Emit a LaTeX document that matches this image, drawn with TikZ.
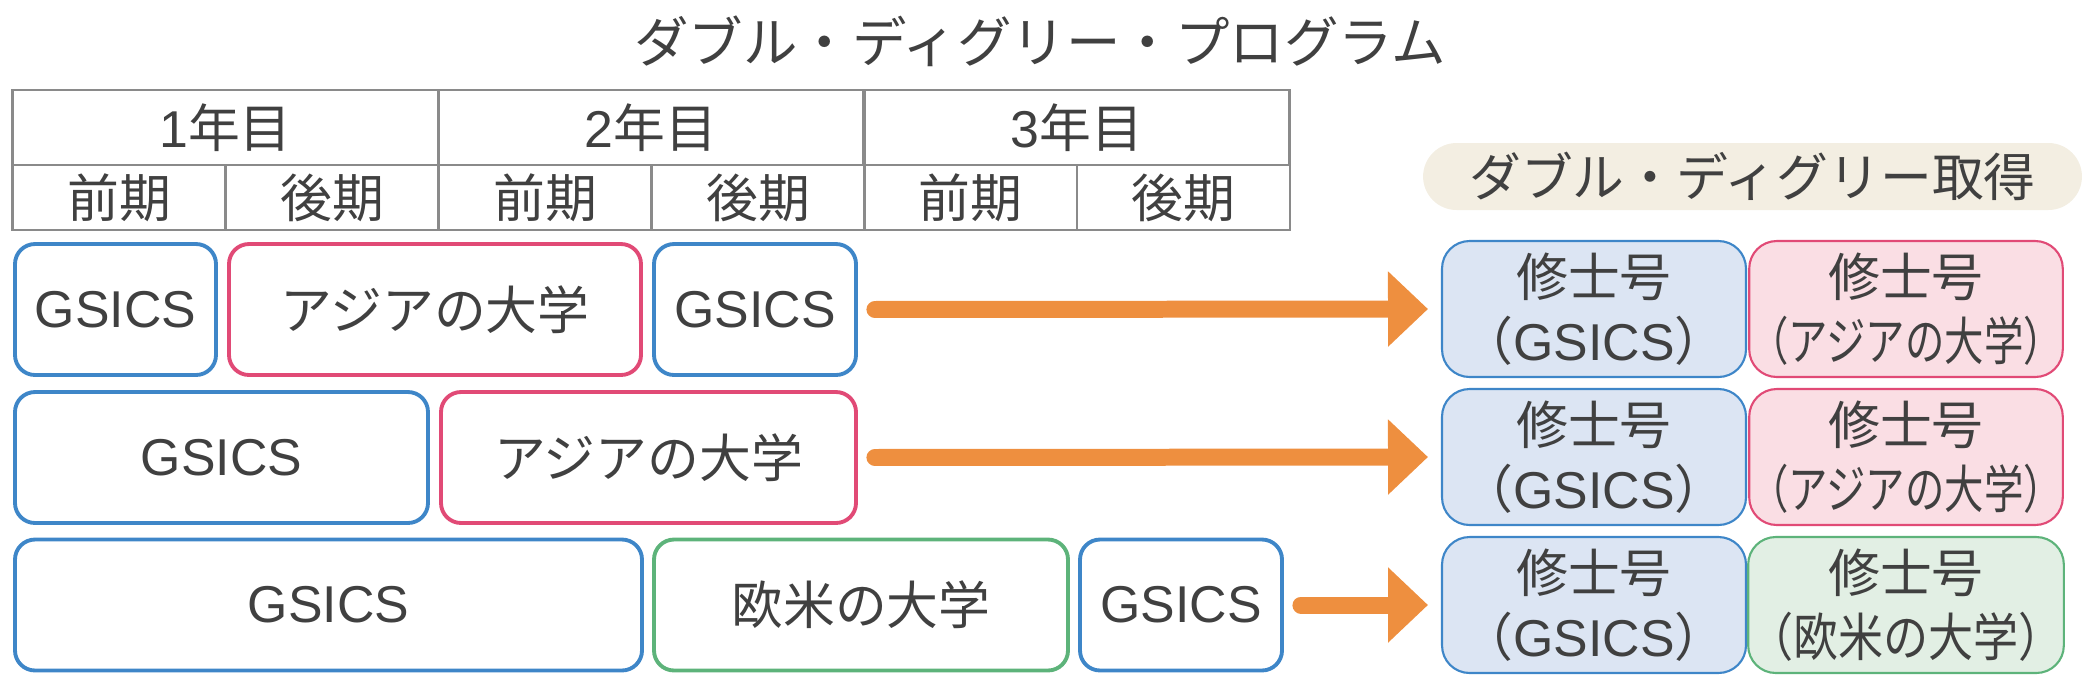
\documentclass[tikz,border=0pt]{standalone}
\usepackage{fontspec}
\setmainfont{Noto Sans CJK JP}
\newfontfamily\latinfont{Liberation Sans}
\usepackage{graphicx}
\usepackage{tikz}
\usetikzlibrary{calc, arrows.meta}
\definecolor{textgray}{HTML}{404040}
\definecolor{linegray}{HTML}{8A8A8A}
\definecolor{gsicsblue}{HTML}{3E86C8}
\definecolor{asiared}{HTML}{E14A76}
\definecolor{eurogreen}{HTML}{5DB37A}
\definecolor{floworange}{HTML}{EE8F3F}
\definecolor{bluefill}{HTML}{DCE5F3}
\definecolor{redfill}{HTML}{FADEE4}
\definecolor{greenfill}{HTML}{E2EFE4}
\definecolor{pillfill}{HTML}{F3EEE2}
\newcommand{\gsics}{{\latinfont GSICS}}
\tikzstyle{cell}   = [draw=linegray, line width=1.5pt, inner sep=0pt, text=textgray, font=\fontsize{29.5}{30}\selectfont]
\tikzstyle{prog}   = [line width=2.2pt, rounded corners=0.4cm, minimum height=2.62cm, inner sep=0pt, text=textgray, font=\fontsize{29.5}{30}\selectfont]
\tikzstyle{degree} = [line width=1.2pt, rounded corners=0.55cm, minimum width=6.08cm, minimum height=2.72cm, inner sep=0pt, align=center, text=textgray, font=\fontsize{29.5}{36.3}\selectfont]
\tikzstyle{flow}   = [draw=floworange, line width=0.34cm, line cap=round, -{Triangle[length=0.8cm, width=1.46cm]}, shorten <=0.34cm, shorten >=0.26cm]

\begin{document}
\begin{tikzpicture}[x=0.02cm, y=-0.02cm]
  \useasboundingbox (0,0) rectangle (2088,681);
  \node[text=textgray, font=\fontsize{31}{32}\selectfont] (title) at (1040,41) {ダブル・ディグリー・プログラム};
  \foreach \i/\x in {1/225.5, 2/651, 3/1077} {
      \node[cell, minimum width=8.51cm, minimum height=1.5cm] (year\i) at (\x,127.5) {{\latinfont\i}年目};
  }
  \foreach \i/\x/\term in {1/119/前期, 2/332/後期, 3/545/前期, 4/758/後期, 5/970.5/前期, 6/1183.5/後期} {
      \node[cell, minimum width=4.256cm, minimum height=1.3cm] (term\i) at (\x,197.5) {\term};
  }
  \foreach \name/\x/\y/\w/\c/\uni in {r1a/115.5/309.5/201/gsicsblue/\gsics, r1b/435/309.5/412/asiared/アジアの大学, r1c/755/309.5/202/gsicsblue/\gsics,
      r2a/221.5/457.5/413/gsicsblue/\gsics, r2b/648.5/457.5/415/asiared/アジアの大学,
      r3a/328.5/605/627/gsicsblue/\gsics, r3b/861/605/414/eurogreen/欧米の大学, r3c/1181/605/202/gsicsblue/\gsics} {
      \node[prog, draw=\c, minimum width=\w*0.02cm] (\name) at (\x,\y) {\uni};
  }
  \node[fill=pillfill, rounded corners=0.67cm, minimum width=13.18cm, minimum height=1.34cm, inner sep=0pt, text=textgray, font=\fontsize{29.5}{30}\selectfont] (goal) at (1752.5,176.5) {ダブル・ディグリー取得};
  \foreach \i/\y/\c/\f/\uni/\s in {1/309/asiared/redfill/アジアの大学/0.76, 2/457/asiared/redfill/アジアの大学/0.76, 3/605/eurogreen/greenfill/欧米の大学/0.87} {
      \node[degree, draw=gsicsblue, fill=bluefill] (home\i) at (1594,\y) {修士号\\（\gsics）};
      \node[degree, draw=\c, fill=\f] (partner\i) at (1906,\y) {修士号\\\scalebox{\s}[1]{（{\uni}）}};
  }
  \draw[flow] (r1c.east) -- (home1.west);
  \draw[flow] (r2b.east) -- (home2.west);
  \draw[flow] (r3c.east) -- (home3.west);
\end{tikzpicture}
\end{document}
